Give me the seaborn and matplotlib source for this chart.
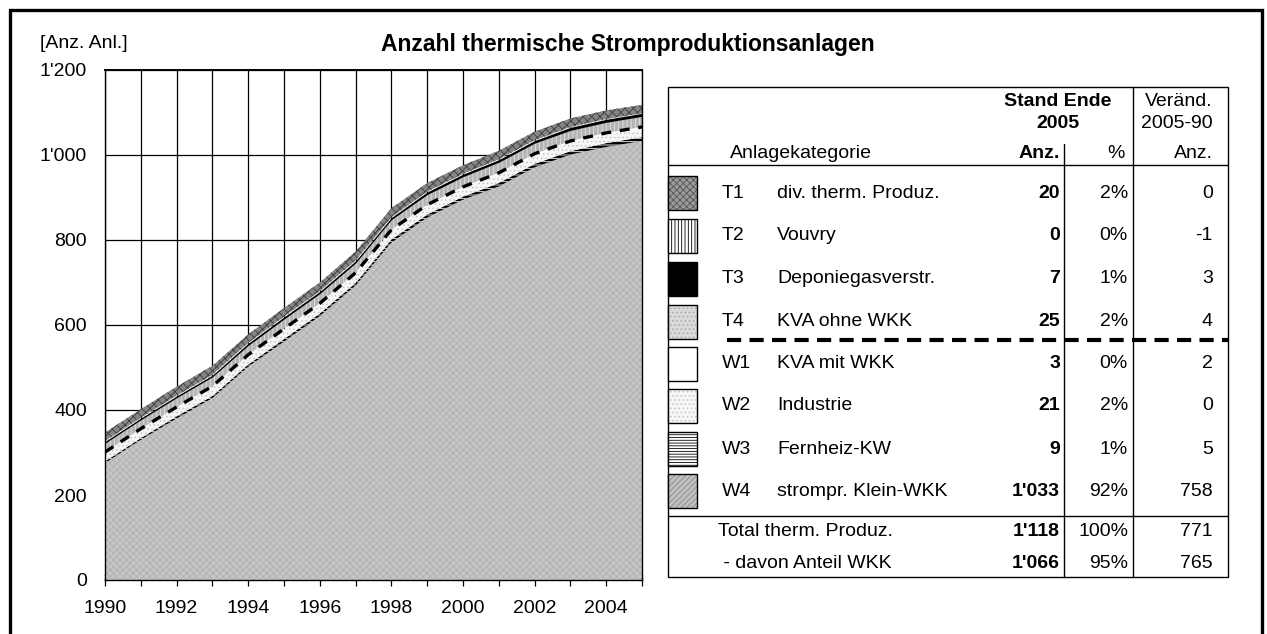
import matplotlib
matplotlib.use("Agg")
import matplotlib.pyplot as plt
import seaborn as sns
from matplotlib.patches import Rectangle
from matplotlib.lines import Line2D
from matplotlib.ticker import FuncFormatter, FixedLocator

# ---------------- data ----------------
years = list(range(1990, 2006))
w4_klein_wkk = [275, 330, 380, 428, 502, 561, 621, 693, 794, 853, 895, 926, 971, 1001, 1019, 1033]
w3_fernheiz = [4, 4, 5, 5, 5, 6, 6, 6, 7, 7, 7, 8, 8, 8, 9, 9]
w2_industrie = [21, 21, 21, 22, 22, 22, 22, 22, 21, 21, 21, 21, 21, 21, 21, 21]
w1_kva_mit = [1, 1, 1, 1, 1, 2, 2, 2, 2, 2, 2, 3, 3, 3, 3, 3]
t4_kva_ohne = [21, 21, 22, 22, 22, 23, 23, 23, 24, 24, 24, 25, 25, 25, 25, 25]
t3_deponie = [4, 4, 4, 4, 5, 5, 5, 5, 5, 6, 6, 6, 6, 7, 7, 7]
t2_vouvry = [1, 1, 1, 1, 1, 1, 1, 1, 1, 1, 1, 1, 1, 1, 1, 0]
t1_div = [20, 20, 21, 21, 20, 20, 20, 21, 21, 20, 20, 20, 20, 20, 20, 20]

codes = ["T1", "T2", "T3", "T4", "W1", "W2", "W3", "W4"]
names = ["div. therm. Produz.", "Vouvry", "Deponiegasverstr.", "KVA ohne WKK",
         "KVA mit WKK", "Industrie", "Fernheiz-KW", "strompr. Klein-WKK"]
series = [t1_div, t2_vouvry, t3_deponie, t4_kva_ohne,
          w1_kva_mit, w2_industrie, w3_fernheiz, w4_klein_wkk]
y_ticks = [0, 200, 400, 600, 800, 1000, 1200]
x_labels = [1990, 1992, 1994, 1996, 1998, 2000, 2002, 2004]

title = "Anzahl thermische Stromproduktionsanlagen"
unit = "[Anz. Anl.]"
total_labels = ["Total therm. Produz.", " - davon Anteil WKK"]

# chart fill styles: face, hatch, hatch colour
styles = {
    "T1": ("#858585", "xxxx", "#3c3c3c"),
    "T2": ("#ffffff", "|||||", "#000000"),
    "T3": ("#000000", None, "#000000"),
    "T4": ("#b4b4b4", "||||", "#e2e2e2"),
    "W1": ("#ffffff", None, "#ffffff"),
    "W2": ("#f6f6f6", "....", "#c4c4c4"),
    "W3": ("#000000", "-----", "#ffffff"),
    "W4": ("#c6c6c6", "xxxxx", "#b0b0b0"),
}
# legend swatch styles (as seen in the table)
swatch_styles = dict(styles)
swatch_styles["T1"] = ("#9a9a9a", "xxxxx", "#555555")
swatch_styles["T4"] = ("#dadada", "....", "#a8a8a8")
swatch_styles["W3"] = ("#ffffff", "------", "#000000")
swatch_styles["W4"] = ("#c0c0c0", "//////", "#8a8a8a")

def fmt(v):
    return f"{v:,}".replace(",", "'")

W, H = 1267, 634
sns.set_theme(style="white")
plt.rcParams["font.family"] = ["Liberation Sans", "DejaVu Sans"]
plt.rcParams["hatch.linewidth"] = 0.6
for k in ["text.color", "axes.labelcolor", "xtick.color", "ytick.color"]:
    plt.rcParams[k] = "black"
FS = 14

fig = plt.figure(figsize=(W / 100, H / 100), dpi=100)
fig.patch.set_facecolor("white")

def fx(x):
    return x / W

def fy(y):
    return 1 - y / H

# ---------------- chart ----------------
ax = fig.add_axes([fx(105), fy(580), (642 - 105) / W, (580 - 70) / H])
ax.set_axisbelow(True)
order = ["W4", "W3", "W2", "W1", "T4", "T3", "T2", "T1"]
data = {c: s for c, s in zip(codes, series)}
polys = ax.stackplot(years, *[data[c] for c in order], linewidth=0)
for p, c in zip(polys, order):
    face, hatch, hc = styles[c]
    p.set_facecolor(face)
    p.set_edgecolor(hc)
    p.set_linewidth(0)
    if hatch:
        p.set_hatch(hatch)

wkk_total = [a + b + c + d for a, b, c, d in zip(w4_klein_wkk, w3_fernheiz, w2_industrie, w1_kva_mit)]
sns.lineplot(x=years, y=wkk_total, ax=ax, color="black", linewidth=2.4,
             linestyle=(0, (3, 2.6)), zorder=5)

ax.set_xlim(1990, 2005)
ax.set_ylim(0, 1200)
ax.xaxis.set_major_locator(FixedLocator(years))
ax.set_xticks(years)
ax.set_xticklabels([str(y) if y in x_labels else "" for y in years])
ax.set_yticks(y_ticks)
ax.yaxis.set_major_formatter(FuncFormatter(lambda v, p: fmt(int(v))))
ax.grid(True, color="black", linewidth=0.9)
ax.tick_params(axis="x", direction="inout", length=9, width=0.9, pad=10,
               labelsize=FS, colors="black", bottom=True)
ax.tick_params(axis="y", direction="out", length=0, pad=13, labelsize=FS,
               colors="black", left=True)
for s in ax.spines.values():
    s.set_color("black")
    s.set_linewidth(1.0)
ax.spines["top"].set_linewidth(1.4)
ax.set_xlabel("")
ax.set_ylabel("")

# ---------------- titles ----------------
fig.text(fx(628), fy(45), title, ha="center", va="center", fontsize=16.5,
         fontweight="bold")
fig.text(fx(40), fy(44), unit, ha="left", va="center", fontsize=FS)

# outer frame
fig.add_artist(Rectangle((fx(10), fy(640)), (1262 - 10) / W, (640 - 10) / H,
                         transform=fig.transFigure, fill=False,
                         edgecolor="black", linewidth=2.4))

# ---------------- table ----------------
def hline(y, x0, x1, lw=1.0, **kw):
    fig.add_artist(Line2D([fx(x0), fx(x1)], [fy(y), fy(y)],
                          transform=fig.transFigure, color="black", linewidth=lw, **kw))

def vline(x, y0, y1, lw=1.0):
    fig.add_artist(Line2D([fx(x), fx(x)], [fy(y0), fy(y1)],
                          transform=fig.transFigure, color="black", linewidth=lw))

tx0, tx1, ty0, ty1 = 668, 1228, 87, 577
fig.add_artist(Rectangle((fx(tx0), fy(ty1)), (tx1 - tx0) / W, (ty1 - ty0) / H,
                         transform=fig.transFigure, fill=False,
                         edgecolor="black", linewidth=1.0))
hline(165, tx0, tx1)
hline(516, tx0, tx1)
vline(1064, 144, ty1)
vline(1133, ty0, ty1)
hline(340, 727, tx1, lw=3.0, linestyle=(0, (3.4, 2.0)))

fig.text(fx(1058), fy(101), "Stand Ende", ha="center", va="center",
         fontsize=FS, fontweight="bold")
fig.text(fx(1058), fy(124), "2005", ha="center", va="center",
         fontsize=FS, fontweight="bold")
fig.text(fx(1213), fy(101), "Veränd.", ha="right", va="center", fontsize=FS)
fig.text(fx(1213), fy(124), "2005-90", ha="right", va="center", fontsize=FS)
fig.text(fx(730), fy(153), "Anlagekategorie", ha="left", va="center", fontsize=FS)
fig.text(fx(1060), fy(153), "Anz.", ha="right", va="center", fontsize=FS,
         fontweight="bold")
fig.text(fx(1116), fy(153), "%", ha="center", va="center", fontsize=FS)
fig.text(fx(1213), fy(153), "Anz.", ha="right", va="center", fontsize=FS)

total_2005 = sum(s[-1] for s in series)
total_1990 = sum(s[0] for s in series)
row_y = [193, 236, 279, 322, 364, 406, 449, 491]
for c, nm, s, yy in zip(codes, names, series, row_y):
    face, hatch, hc = swatch_styles[c]
    sw = Rectangle((fx(668), fy(yy + 17)), 29 / W, 34 / H,
                   transform=fig.transFigure, facecolor=face,
                   edgecolor=hc, linewidth=0, hatch=hatch)
    fig.add_artist(sw)
    fig.add_artist(Rectangle((fx(668), fy(yy + 17)), 29 / W, 34 / H,
                             transform=fig.transFigure, fill=False,
                             edgecolor="black", linewidth=1.0))
    fig.text(fx(722), fy(yy), c, ha="left", va="center", fontsize=FS)
    fig.text(fx(777), fy(yy), nm, ha="left", va="center", fontsize=FS)
    fig.text(fx(1060), fy(yy), fmt(s[-1]), ha="right", va="center",
             fontsize=FS, fontweight="bold")
    fig.text(fx(1128), fy(yy), f"{round(100 * s[-1] / total_2005)}%",
             ha="right", va="center", fontsize=FS)
    fig.text(fx(1213), fy(yy), fmt(s[-1] - s[0]), ha="right", va="center",
             fontsize=FS)

wkk_2005 = wkk_total[-1]
wkk_1990 = wkk_total[0]
tot_rows = [(total_labels[0], total_2005, total_1990, 532, 718),
            (total_labels[1], wkk_2005, wkk_1990, 563, 718)]
for lab, v05, v90, yy, xx in tot_rows:
    fig.text(fx(xx), fy(yy), lab, ha="left", va="center", fontsize=FS)
    fig.text(fx(1060), fy(yy), fmt(v05), ha="right", va="center",
             fontsize=FS, fontweight="bold")
    fig.text(fx(1128), fy(yy), f"{round(100 * v05 / total_2005)}%",
             ha="right", va="center", fontsize=FS)
    fig.text(fx(1213), fy(yy), fmt(v05 - v90), ha="right", va="center",
             fontsize=FS)

fig.savefig("out.png", dpi=100)
